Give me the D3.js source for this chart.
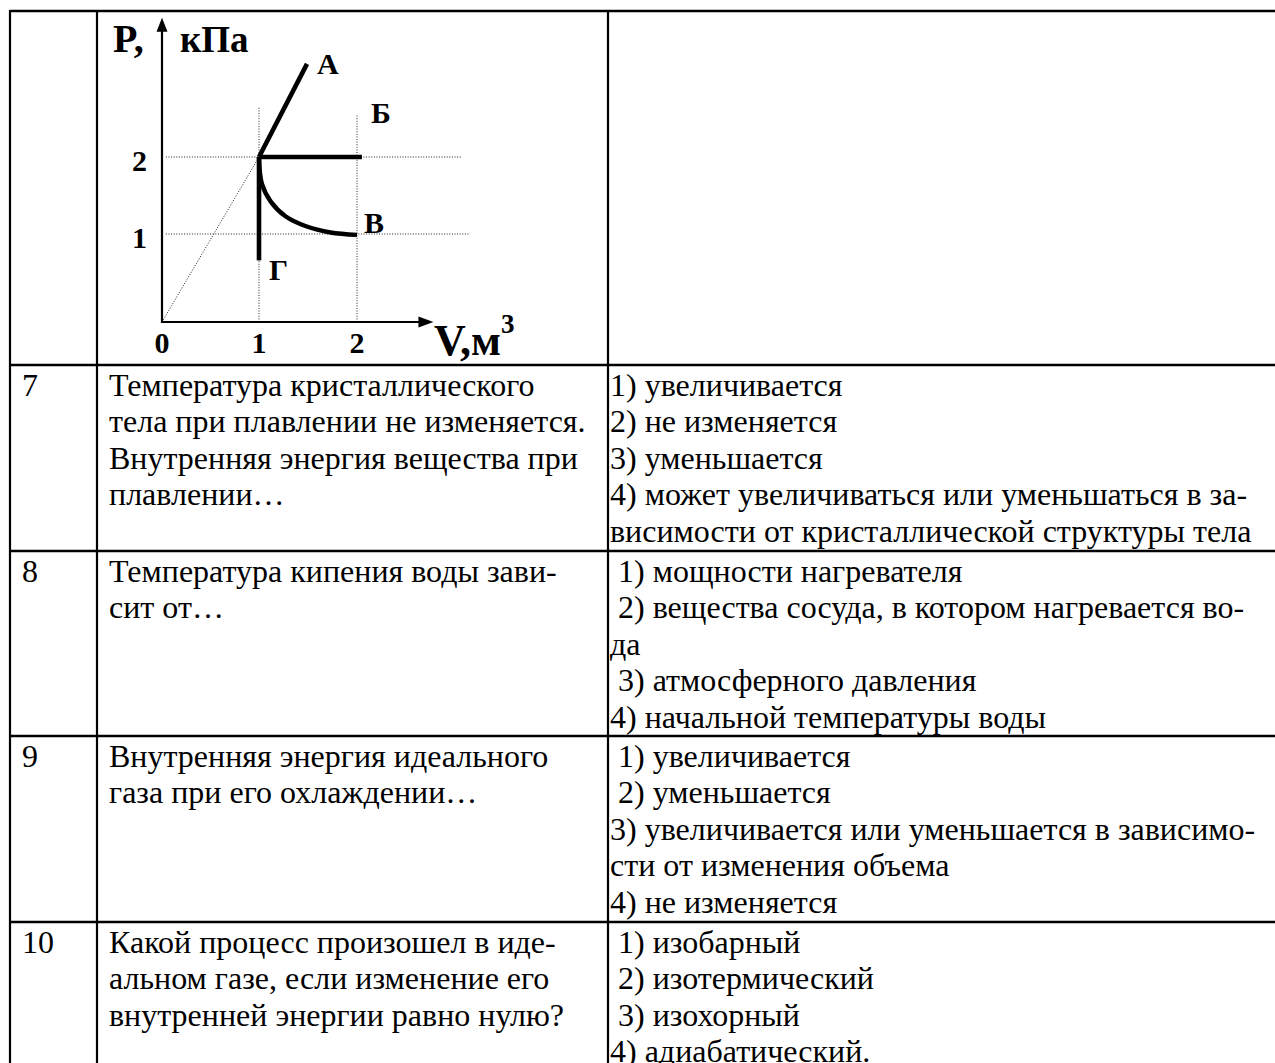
<!DOCTYPE html>
<html><head><meta charset="utf-8">
<script src="https://cdn.jsdelivr.net/npm/d3@7"></script>
<style>
html,body{margin:0;padding:0;background:#fff;}
svg{display:block;}
text{font-family:"Liberation Serif","Times New Roman",serif;white-space:pre;fill:#000;}
</style>
</head><body>
<svg id="c" width="1275" height="1063"></svg>
<script>
// ---------- data ----------
const rowNumbers = ["7", "8", "9", "10"];
const questions = [
  ["Температура кристаллического", "тела при плавлении не изменяется.", "Внутренняя энергия вещества при", "плавлении…"],
  ["Температура кипения воды зави-", "сит от…"],
  ["Внутренняя энергия идеального", "газа при его охлаждении…"],
  ["Какой процесс произошел в иде-", "альном газе, если изменение его", "внутренней энергии равно нулю?"]
];
const answers = [
  ["1) увеличивается", "2) не изменяется", "3) уменьшается", "4) может увеличиваться или уменьшаться в за-", "висимости от кристаллической структуры тела"],
  [" 1) мощности нагревателя", " 2) вещества сосуда, в котором нагревается во-", "да", " 3) атмосферного давления", "4) начальной температуры воды"],
  [" 1) увеличивается", " 2) уменьшается", "3) увеличивается или уменьшается в зависимо-", "сти от изменения объема", "4) не изменяется"],
  [" 1) изобарный", " 2) изотермический", " 3) изохорный", "4) адиабатический."]
];
const volumeTicks = [0, 1, 2];
const volumeTickLabels = ["0", "1", "2"];
const pressureTicks = [1, 2];
const pressureTickLabels = ["1", "2"];
const pressureLabel = ["P,", "кПа"];
const volumeLabel = ["V,м", "3"];
const processNames = ["А", "Б", "В", "Г"];
const processA = [[1, 2], [1.49, 3.21]];
const processB = [[1, 2], [2.05, 2]];
const processV = [[1, 2], [1.03, 1.65], [1.12, 1.42], [1.27, 1.23], [1.48, 1.10], [1.73, 1.02], [2.0, 0.99]];
const processG = [[1, 2], [1, 0.7]];
const guideP = [[2, 3.07], [1, 3.15]];   // pressure level, dotted line end (V)
const guideV = [[1, 2.64], [2, 2.55]];   // volume level, dotted line top (P)
const axisMax = {V: 2.78, P: 3.81};

// ---------- layout ----------
const svg = d3.select("#c");
svg.append("rect").attr("width", 1275).attr("height", 1063).attr("fill", "#fff");
const colX = [10, 97, 608, 1275];
const rowY = [11, 365, 551, 736, 922];
const bottom = 1063;
const fs = 32, lh = 36.6;

// table lines
const gT = svg.append("g");
gT.append("line").attr("x1", colX[0]).attr("x2", colX[3]).attr("y1", rowY[0]).attr("y2", rowY[0])
  .attr("stroke", "#000").attr("stroke-width", 2.5);
rowY.slice(1).forEach(yv => gT.append("line").attr("x1", colX[0] - 1).attr("x2", colX[3]).attr("y1", yv).attr("y2", yv)
  .attr("stroke", "#000").attr("stroke-width", 2.6));
colX.slice(0, 3).forEach(xv => gT.append("line").attr("x1", xv).attr("x2", xv).attr("y1", rowY[0] - 1).attr("y2", bottom)
  .attr("stroke", "#000").attr("stroke-width", 2.2));

// table text
rowNumbers.forEach((n, i) => {
  const top = rowY[i + 1];
  const first = top + 30.5;
  svg.append("text").attr("x", 22).attr("y", first).attr("font-size", fs).text(n);
  questions[i].forEach((t, j) => svg.append("text").attr("x", 109).attr("y", first + j * lh).attr("font-size", fs).text(t));
  answers[i].forEach((t, j) => svg.append("text").attr("x", 610).attr("y", first + j * lh).attr("font-size", fs).text(t));
});

// ---------- graph ----------
const x = d3.scaleLinear().domain([0, 1, 2]).range([162, 259, 357]);
const y = d3.scaleLinear().domain([0, 1, 2]).range([322, 234, 157]);
const g = svg.append("g");
const dotted = {stroke: "#222", "stroke-width": 1, "stroke-dasharray": "1,1.6"};
function applyAttrs(sel, a) { Object.entries(a).forEach(([k, v]) => sel.attr(k, v)); return sel; }

guideP.forEach(([p, vEnd]) => applyAttrs(g.append("line").attr("x1", x(0.04)).attr("x2", x(vEnd)).attr("y1", y(p)).attr("y2", y(p)), dotted));
guideV.forEach(([v, pTop]) => applyAttrs(g.append("line").attr("x1", x(v)).attr("x2", x(v)).attr("y1", y(0)).attr("y2", y(pTop)), dotted));
applyAttrs(g.append("line").attr("x1", x(0)).attr("y1", y(0)).attr("x2", x(1)).attr("y2", y(2)), dotted);

// axes
const ax0 = x(0), ay0 = y(0), yTip = y(axisMax.P), xTip = x(axisMax.V);
g.append("line").attr("x1", ax0).attr("x2", ax0).attr("y1", ay0 + 1).attr("y2", yTip + 10).attr("stroke", "#000").attr("stroke-width", 2.2);
g.append("path").attr("d", `M${ax0},${yTip}L${ax0 - 5.5},${yTip + 14}L${ax0 + 5.5},${yTip + 14}Z`).attr("fill", "#000");
g.append("line").attr("x1", ax0 - 1).attr("x2", xTip - 10).attr("y1", ay0).attr("y2", ay0).attr("stroke", "#000").attr("stroke-width", 2.2);
g.append("path").attr("d", `M${xTip},${ay0}L${xTip - 15},${ay0 - 5.5}L${xTip - 15},${ay0 + 5.5}Z`).attr("fill", "#000");

// processes
const straight = d3.line().x(d => x(d[0])).y(d => y(d[1]));
const curved = d3.line().x(d => x(d[0])).y(d => y(d[1])).curve(d3.curveCatmullRom.alpha(0.5));
[processA, processB, processG].forEach(p => g.append("path").attr("d", straight(p)).attr("fill", "none")
  .attr("stroke", "#000").attr("stroke-width", 4.6).attr("stroke-linecap", "butt"));
g.append("path").attr("d", curved(processV)).attr("fill", "none").attr("stroke", "#000").attr("stroke-width", 4.4);

// process labels
const ends = [processA, processB, processV, processG].map(p => p[p.length - 1]);
const labelOffsets = [[10, 10], [9, -34], [7, -2], [10, 20]];
processNames.forEach((nm, i) => {
  g.append("text").attr("x", x(ends[i][0]) + labelOffsets[i][0]).attr("y", y(ends[i][1]) + labelOffsets[i][1])
    .attr("font-size", 30).attr("font-weight", "bold").text(nm);
});

// tick labels
volumeTicks.forEach((v, i) => g.append("text").attr("x", x(v)).attr("y", 353).attr("text-anchor", "middle")
  .attr("font-size", 30).attr("font-weight", "bold").text(volumeTickLabels[i]));
pressureTicks.forEach((p, i) => g.append("text").attr("x", 147).attr("y", y(p) + 14).attr("text-anchor", "end")
  .attr("font-size", 30).attr("font-weight", "bold").text(pressureTickLabels[i]));

// axis titles
g.append("text").attr("x", 113).attr("y", 52).attr("font-size", 40).attr("font-weight", "bold").text(pressureLabel[0]);
g.append("text").attr("x", 180).attr("y", 52).attr("font-size", 37).attr("font-weight", "bold").text(pressureLabel[1]);
const vt = g.append("text").attr("x", 434).attr("y", 355).attr("font-size", 44).attr("font-weight", "bold");
vt.append("tspan").text(volumeLabel[0]);
vt.append("tspan").attr("dy", -22).attr("font-size", 27).text(volumeLabel[1]);
</script>
</body></html>
